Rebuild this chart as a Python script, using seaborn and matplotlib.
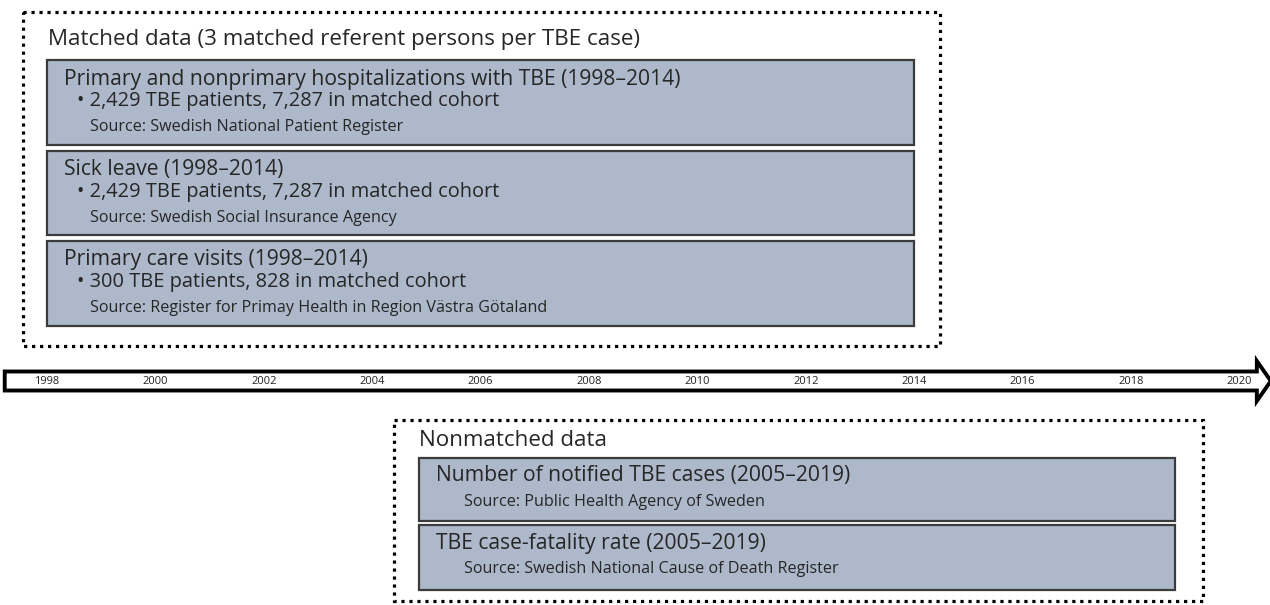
import matplotlib
matplotlib.use("Agg")
import matplotlib.pyplot as plt
import matplotlib.patches as mpatches
import seaborn as sns

# timeline years
years = list(range(1998, 2021, 2))

# matched data (inner boxes)
matched_title = "Matched data (3 matched referent persons per TBE case)"
matched_names = ["Primary and nonprimary hospitalizations with TBE (1998\u20132014)",
                 "Sick leave (1998\u20132014)",
                 "Primary care visits (1998\u20132014)"]
matched_counts = ["\u2022 2,429 TBE patients, 7,287 in matched cohort",
                  "\u2022 2,429 TBE patients, 7,287 in matched cohort",
                  "\u2022 300 TBE patients, 828 in matched cohort"]
matched_sources = ["Source: Swedish National Patient Register",
                   "Source: Swedish Social Insurance Agency",
                   "Source: Register for Primay Health in Region V\u00e4stra G\u00f6taland"]
matched_start = [1998, 1998, 1998]
matched_end = [2014, 2014, 2014]

# nonmatched data
nonmatched_title = "Nonmatched data"
nonmatched_names = ["Number of notified TBE cases (2005\u20132019)",
                    "TBE case-fatality rate (2005\u20132019)"]
nonmatched_sources = ["Source: Public Health Agency of Sweden",
                      "Source: Swedish National Cause of Death Register"]
nonmatched_start = [2005, 2005]
nonmatched_end = [2019, 2019]

sns.set_theme(style="white")
plt.rcParams['font.family'] = ['Open Sans', 'DejaVu Sans']

fill = "#adb9ca"
edge = "#3b3b3b"
head_fs = 16.1
name_fs = 15.2
count_fs = 14.4
src_fs = 11.6

fig = plt.figure(figsize=(12.7, 6.05), dpi=100)
ax = fig.add_axes([0, 0, 1, 1])
px = 54.2  # pixels per year
x0 = years[0] - 47 / px
ax.set_xlim(x0, x0 + 1270 / px)
ax.set_ylim(605, 0)
ax.axis("off")

# timeline arrow
t_start = years[0] - 0.78
t_end = years[-1] + 0.58
arrow = mpatches.FancyArrow(t_start, 381, t_end - t_start, 0, width=19, head_width=40,
                            head_length=14 / px, length_includes_head=True,
                            facecolor="white", edgecolor="black", linewidth=2.8)
ax.add_patch(arrow)
for y in years:
    ax.text(y, 381.5, str(y), ha="center", va="center", fontsize=8, color="#222222")


def outer_box(x1, x2, y1, y2):
    r = mpatches.Rectangle((x1, y1), x2 - x1, y2 - y1, fill=False, edgecolor="black",
                           linewidth=2.3, linestyle=(0, (1, 1.5)))
    ax.add_patch(r)


# matched block
outer_box(min(matched_start) - 0.45, max(matched_end) + 0.47, 12, 346)
ax.text(matched_start[0] + 0.02, 39, matched_title, ha="left", va="center", fontsize=head_fs)
m_top = [60, 151, 241]
m_h = [85, 84, 85]
ax.barh([t + h / 2 for t, h in zip(m_top, m_h)], [e - s for s, e in zip(matched_start, matched_end)],
        height=m_h, left=matched_start, color=fill, edgecolor=edge, linewidth=1.6)
for i in range(len(matched_names)):
    ax.text(matched_start[i] + 0.31, m_top[i] + 19, matched_names[i], ha="left", va="center", fontsize=name_fs)
    ax.text(matched_start[i] + 0.55, m_top[i] + 41, matched_counts[i], ha="left", va="center", fontsize=count_fs)
    ax.text(matched_start[i] + 0.8, m_top[i] + 67, matched_sources[i], ha="left", va="center", fontsize=src_fs)

# nonmatched block
outer_box(min(nonmatched_start) - 0.6, max(nonmatched_end) + 0.33, 420, 601)
ax.text(nonmatched_start[0] - 0.13, 440, nonmatched_title, ha="left", va="center", fontsize=head_fs)
n_top = [458, 525]
n_h = [63, 65]
ax.barh([t + h / 2 for t, h in zip(n_top, n_h)], [e - s - 0.05 for s, e in zip(nonmatched_start, nonmatched_end)],
        height=n_h, left=[s - 0.14 for s in nonmatched_start], color=fill, edgecolor=edge, linewidth=1.6)
for i in range(len(nonmatched_names)):
    ax.text(nonmatched_start[i] + 0.17, n_top[i] + 18, nonmatched_names[i], ha="left", va="center", fontsize=name_fs)
    ax.text(nonmatched_start[i] + 0.7, n_top[i] + 44, nonmatched_sources[i], ha="left", va="center", fontsize=src_fs)

fig.savefig("out.png", dpi=100, facecolor="white")
